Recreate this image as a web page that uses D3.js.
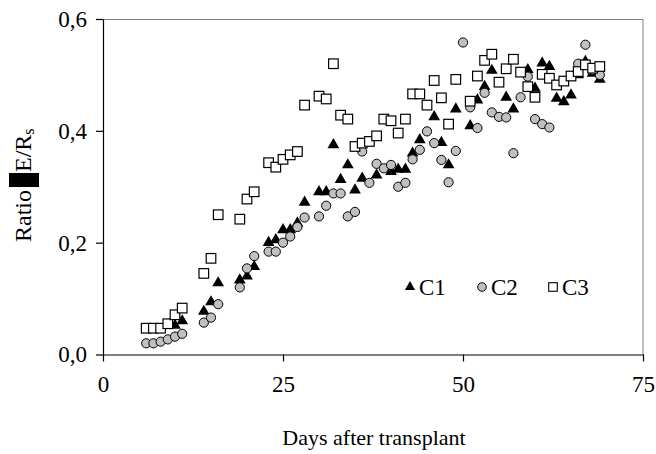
<!DOCTYPE html>
<html>
<head>
<meta charset="utf-8">
<script src="https://cdn.jsdelivr.net/npm/d3@7"></script>
<style>
  body { margin: 0; background: #fff; }
  text { font-family: "Liberation Serif", "Times New Roman", serif; fill: #000; }
</style>
</head>
<body>
<div id="chart-area"></div>
<script>
// Days and ratio values
var c1Days = [10, 11, 14, 15, 16, 19, 20, 21, 23, 24, 25, 26, 27, 28, 30, 31, 32, 33, 34, 35, 36, 38, 40, 41, 42, 43, 44, 46, 47, 48, 49, 51, 52, 53, 54, 56, 57, 59, 60, 61, 62, 63, 64, 65, 66, 67, 68, 69];
var c1Values = [0.052, 0.06, 0.077, 0.094, 0.128, 0.133, 0.14, 0.157, 0.20, 0.205, 0.223, 0.223, 0.235, 0.272, 0.291, 0.291, 0.375, 0.313, 0.339, 0.294, 0.315, 0.321, 0.327, 0.331, 0.331, 0.36, 0.384, 0.425, 0.379, 0.339, 0.439, 0.409, 0.455, 0.479, 0.508, 0.46, 0.439, 0.509, 0.476, 0.521, 0.515, 0.458, 0.452, 0.464, 0.50, 0.524, 0.503, 0.492];

var c2Days = [6, 7, 8, 9, 10, 11, 14, 15, 16, 19, 20, 21, 23, 24, 25, 26, 27, 28, 30, 31, 32, 33, 34, 35, 36, 37, 38, 39, 40, 41, 42, 43, 44, 45, 46, 47, 48, 49, 50, 51, 52, 53, 54, 55, 56, 57, 58, 59, 60, 61, 62, 66, 67, 68, 69];
var c2Values = [0.020, 0.020, 0.023, 0.027, 0.032, 0.037, 0.057, 0.066, 0.090, 0.120, 0.154, 0.176, 0.184, 0.184, 0.200, 0.211, 0.228, 0.245, 0.247, 0.266, 0.288, 0.288, 0.247, 0.255, 0.363, 0.307, 0.341, 0.333, 0.339, 0.300, 0.307, 0.349, 0.366, 0.399, 0.378, 0.348, 0.308, 0.364, 0.558, 0.442, 0.405, 0.468, 0.433, 0.425, 0.424, 0.360, 0.460, 0.497, 0.421, 0.412, 0.406, 0.520, 0.554, 0.509, 0.500];

var c3Days = [6, 7, 8, 9, 10, 11, 14, 15, 16, 19, 20, 21, 23, 24, 25, 26, 27, 28, 30, 31, 32, 33, 34, 35, 36, 37, 38, 39, 40, 41, 42, 43, 44, 45, 46, 47, 48, 49, 51, 52, 53, 54, 55, 56, 57, 58, 59, 60, 61, 62, 63, 64, 65, 66, 67, 68, 69];
var c3Values = [0.047, 0.047, 0.047, 0.055, 0.071, 0.083, 0.145, 0.172, 0.250, 0.242, 0.278, 0.291, 0.343, 0.335, 0.349, 0.357, 0.363, 0.446, 0.462, 0.457, 0.520, 0.428, 0.421, 0.372, 0.378, 0.381, 0.391, 0.421, 0.418, 0.396, 0.421, 0.466, 0.466, 0.446, 0.490, 0.459, 0.412, 0.492, 0.453, 0.498, 0.526, 0.537, 0.487, 0.511, 0.528, 0.505, 0.479, 0.460, 0.501, 0.494, 0.482, 0.489, 0.498, 0.506, 0.518, 0.512, 0.515];

var seriesNames = ["C1", "C2", "C3"];
var xTicks = [0, 25, 50, 75];
var yTicks = [0, 0.2, 0.4, 0.6];

var margin = { left: 103, right: 13, top: 19, bottom: 99.5 };
var width = 656 - margin.left - margin.right;
var height = 454 - margin.top - margin.bottom;

var svg = d3.select("#chart-area")
  .append("svg")
  .attr("width", 656)
  .attr("height", 454);

var g = svg.append("g")
  .attr("transform", "translate(" + margin.left + "," + margin.top + ")");

var x = d3.scaleLinear().domain([0, 75]).range([0, width]);
var y = d3.scaleLinear().domain([0, 0.6]).range([height, 0]);

var comma = function(d) { return d3.format(".1f")(d).replace(".", ","); };

// plot area border (top and right)
g.append("path")
  .attr("d", "M0,0.5H" + width + "V" + height)
  .attr("fill", "none")
  .attr("stroke", "#808080")
  .attr("stroke-width", 1);

var xAxis = g.append("g")
  .attr("transform", "translate(0," + height + ")")
  .call(d3.axisBottom(x).tickValues(xTicks).tickSize(7).tickPadding(14).tickSizeOuter(0));

var yAxis = g.append("g")
  .call(d3.axisLeft(y).tickValues(yTicks).tickFormat(comma).tickSize(7).tickPadding(9).tickSizeOuter(0));

[xAxis, yAxis].forEach(function(a) {
  a.selectAll("path, line").attr("stroke", "#000").attr("stroke-width", 1.2);
  a.selectAll("text")
    .attr("font-family", "Liberation Serif")
    .attr("font-size", "23px")
    .attr("fill", "#000");
});

// X label
g.append("text")
  .attr("x", width / 2 + 1)
  .attr("y", height + 90)
  .attr("text-anchor", "middle")
  .attr("font-size", "22px")
  .text("Days after transplant");

// Y label
var yLab = svg.append("g")
  .attr("transform", "translate(31,242) rotate(-90)");

var yText = yLab.append("text")
  .attr("x", 0)
  .attr("y", 0)
  .attr("font-size", "24px");
yText.append("tspan").text("Ratio");
yText.append("tspan").attr("dx", 18).text("E/R");
yText.append("tspan").attr("font-size", "16px").attr("dy", 3).text("s");

yLab.append("rect")
  .attr("x", 55)
  .attr("y", -22)
  .attr("width", 14)
  .attr("height", 30)
  .attr("fill", "#000");

var triangle = d3.symbol().type(d3.symbolTriangle).size(60);

function drawSeries(days, values, kind) {
  var data = days.map(function(d, i) { return { day: d, value: values[i] }; });
  var sel = g.append("g").selectAll(".pt").data(data).enter();
  if (kind === "C1") {
    sel.append("path")
      .attr("d", triangle)
      .attr("transform", function(d) { return "translate(" + x(d.day) + "," + y(d.value) + ")"; })
      .attr("fill", "#000");
  } else if (kind === "C2") {
    sel.append("circle")
      .attr("cx", function(d) { return x(d.day); })
      .attr("cy", function(d) { return y(d.value); })
      .attr("r", 4.6)
      .attr("fill", "#c0c0c0")
      .attr("stroke", "#000")
      .attr("stroke-width", 1);
  } else {
    sel.append("rect")
      .attr("x", function(d) { return x(d.day) - 4.8; })
      .attr("y", function(d) { return y(d.value) - 4.8; })
      .attr("width", 9.6)
      .attr("height", 9.6)
      .attr("fill", "#fff")
      .attr("stroke", "#000")
      .attr("stroke-width", 1.2);
  }
}

drawSeries(c1Days, c1Values, "C1");
drawSeries(c2Days, c2Values, "C2");
drawSeries(c3Days, c3Values, "C3");

// Legend
var legendX = [410, 482, 553];
var legend = svg.selectAll(".legend")
  .data(seriesNames)
  .enter()
  .append("g")
  .attr("class", "legend")
  .attr("transform", function(d, i) { return "translate(" + legendX[i] + ",287)"; });

legend.each(function(d) {
  var l = d3.select(this);
  if (d === "C1") {
    l.append("path").attr("d", d3.symbol().type(d3.symbolTriangle).size(45)).attr("fill", "#000");
  } else if (d === "C2") {
    l.append("circle").attr("r", 4.3).attr("fill", "#c0c0c0").attr("stroke", "#000");
  } else {
    l.append("rect").attr("x", -4.3).attr("y", -4.3).attr("width", 8.6).attr("height", 8.6)
      .attr("fill", "#fff").attr("stroke", "#000").attr("stroke-width", 1.1);
  }
});

legend.append("text")
  .attr("x", 9)
  .attr("y", 8)
  .attr("font-size", "23px")
  .text(function(d) { return d; });
</script>
</body>
</html>
